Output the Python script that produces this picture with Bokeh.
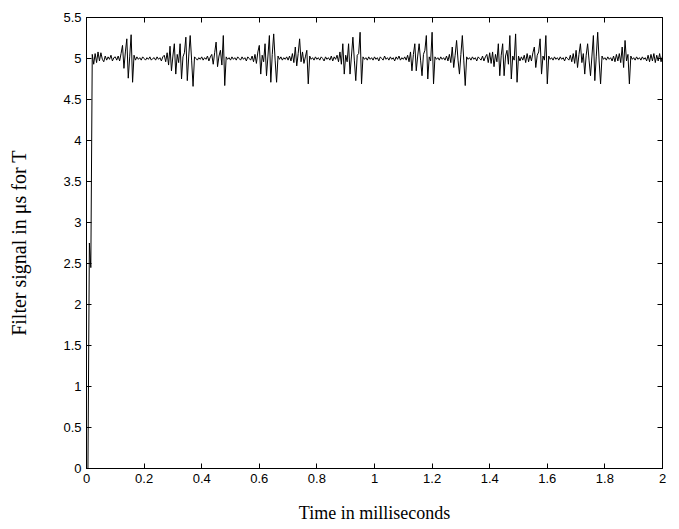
from bokeh.plotting import figure
from bokeh.models import Range1d, LinearAxis, FixedTicker, ColumnDataSource
from bokeh.embed import file_html
from bokeh.resources import INLINE

# ---- data ----
TIME_STEP_MS = 0.005  # sampling interval of the signal, milliseconds

signal = [
    # 0.00 - 0.095
    0.00, 0.00, 2.75, 2.45, 5.05, 4.93, 5.06, 4.95, 5.08, 4.97, 5.07, 4.99, 4.96, 5.03, 4.98, 5.02, 4.99, 5.04, 4.97, 5.01,
    # 0.10 - 0.195
    5.02, 4.98, 5.03, 4.97, 5.06, 5.16, 4.88, 5.08, 5.24, 4.76, 5.02, 5.29, 4.71, 5.04, 4.98, 5.02, 4.99, 5.01, 4.98, 5.02,
    # 0.20 - 0.295
    5.00, 4.98, 5.01, 4.99, 5.02, 4.98, 5.00, 5.01, 4.98, 5.02, 4.99, 5.01, 4.97, 5.02, 5.04, 4.96, 5.07, 4.92, 5.15, 4.85,
    # 0.30 - 0.395
    5.03, 5.18, 4.81, 5.05, 4.95, 5.18, 4.75, 5.02, 5.07, 5.26, 4.73, 5.03, 5.28, 4.98, 4.66, 5.02, 5.00, 4.98, 5.01, 4.99,
    # 0.40 - 0.495
    5.02, 4.98, 5.01, 4.99, 5.03, 4.97, 5.02, 5.05, 4.93, 5.07, 5.20, 4.90, 5.03, 5.10, 4.92, 5.28, 4.67, 5.02, 4.99, 5.01,
    # 0.50 - 0.595
    4.98, 5.02, 4.99, 5.01, 4.98, 5.02, 5.00, 4.98, 5.02, 4.99, 5.01, 4.97, 5.02, 5.00, 4.98, 5.03, 4.96, 5.05, 4.94, 5.08,
    # 0.60 - 0.695
    5.16, 4.81, 5.04, 4.96, 5.18, 4.79, 5.03, 5.28, 4.71, 5.05, 5.30, 4.98, 4.71, 5.03, 4.99, 5.02, 4.98, 5.01, 4.99, 5.02,
    # 0.70 - 0.795
    4.98, 5.03, 4.97, 5.06, 4.95, 5.14, 4.91, 5.06, 5.24, 4.96, 5.08, 4.94, 5.02, 5.10, 4.69, 5.03, 4.99, 5.01, 4.98, 5.02,
    # 0.80 - 0.895
    4.99, 5.01, 4.98, 5.02, 5.00, 4.97, 5.02, 4.99, 5.01, 4.98, 5.03, 4.97, 5.02, 4.99, 5.04, 4.96, 5.08, 4.93, 5.18, 4.81,
    # 0.90 - 0.995
    5.04, 4.96, 5.18, 4.81, 5.03, 5.26, 4.98, 4.73, 5.04, 5.06, 5.32, 4.69, 5.02, 4.99, 5.01, 4.98, 5.02, 4.99, 5.01, 4.98,
    # 1.00 - 1.095
    5.02, 4.99, 5.01, 4.97, 5.02, 5.00, 4.98, 5.03, 4.99, 5.01, 4.98, 5.02, 4.99, 5.01, 4.97, 5.02, 4.99, 5.03, 4.98, 5.01,
    # 1.10 - 1.195
    4.99, 5.02, 4.98, 5.04, 4.96, 5.08, 4.85, 5.05, 5.18, 4.85, 5.03, 5.18, 4.98, 4.79, 5.05, 5.10, 5.28, 4.75, 5.02, 4.97,
    # 1.20 - 1.295
    5.32, 4.69, 5.02, 4.99, 5.01, 4.98, 5.02, 4.99, 5.01, 4.98, 5.03, 4.97, 5.05, 4.95, 5.14, 4.89, 5.04, 5.22, 4.98, 4.81,
    # 1.30 - 1.395
    5.05, 5.28, 4.98, 4.67, 5.02, 4.99, 5.01, 4.98, 5.02, 4.99, 5.01, 4.97, 5.02, 5.00, 4.98, 5.03, 4.97, 5.02, 5.05, 4.95,
    # 1.40 - 1.495
    5.07, 4.94, 5.08, 4.90, 5.05, 4.96, 5.18, 4.79, 5.04, 5.18, 4.79, 5.03, 5.10, 4.93, 5.28, 4.75, 5.03, 4.98, 5.30, 4.71,
    # 1.50 - 1.595
    5.03, 4.97, 5.02, 4.98, 5.04, 4.95, 5.06, 4.96, 5.04, 4.97, 5.07, 5.14, 4.89, 5.04, 5.08, 5.24, 4.81, 5.03, 4.98, 5.28,
    # 1.60 - 1.695
    4.69, 5.03, 4.99, 5.01, 4.98, 5.02, 4.99, 5.01, 4.98, 5.02, 4.99, 5.01, 4.97, 5.02, 5.00, 4.98, 5.04, 4.96, 5.06, 4.94,
    # 1.70 - 1.795
    5.10, 4.89, 5.05, 5.18, 4.95, 5.06, 4.81, 5.04, 5.18, 4.98, 4.79, 5.03, 5.28, 4.73, 5.02, 5.32, 4.97, 4.69, 5.03, 4.99,
    # 1.80 - 1.895
    5.01, 4.98, 5.02, 4.99, 5.01, 4.97, 5.03, 4.96, 5.05, 4.97, 5.06, 4.95, 5.14, 4.89, 5.22, 4.97, 5.05, 4.69, 5.03, 4.99,
    # 1.90 - 1.995
    5.01, 4.98, 5.02, 4.99, 5.01, 4.98, 5.02, 4.99, 5.01, 4.97, 5.04, 4.96, 5.05, 4.97, 5.06, 4.95, 5.04, 4.97, 5.06, 4.96,
    # 2.00
    5.03,
]

x_ticks = [0, 0.2, 0.4, 0.6, 0.8, 1, 1.2, 1.4, 1.6, 1.8, 2]
x_tick_labels = ["0", "0.2", "0.4", "0.6", "0.8", "1", "1.2", "1.4", "1.6", "1.8", "2"]
y_ticks = [0, 0.5, 1, 1.5, 2, 2.5, 3, 3.5, 4, 4.5, 5, 5.5]
y_tick_labels = ["0", "0.5", "1", "1.5", "2", "2.5", "3", "3.5", "4", "4.5", "5", "5.5"]

x_label = "Time in milliseconds"
y_label = "Filter signal in \u03bcs for T"

time_ms = [i * TIME_STEP_MS for i in range(len(signal))]
source = ColumnDataSource(data=dict(t=time_ms, v=signal))

# ---- figure ----
p = figure(
    width=679, height=529,
    x_range=Range1d(0, 2), y_range=Range1d(0, 5.5),
    output_backend="svg", toolbar_location=None,
    min_border_left=86, min_border_right=17,
    min_border_top=17, min_border_bottom=61,
    background_fill_color="white", border_fill_color="white",
)
p.xgrid.visible = False
p.ygrid.visible = False
p.outline_line_color = "black"
p.outline_line_width = 1

p.line("t", "v", source=source, line_color="black", line_width=1)

TICK_FONT = "Liberation Sans"
LABEL_FONT = "Liberation Serif"

def style_axis(ax, ticks, labels, show_labels=True):
    ax.ticker = FixedTicker(ticks=ticks)
    ax.major_tick_in = 5
    ax.major_tick_out = 0
    ax.minor_tick_in = 0
    ax.minor_tick_out = 0
    ax.axis_line_color = "black"
    ax.major_tick_line_color = "black"
    if show_labels:
        ax.major_label_overrides = {t: l for t, l in zip(ticks, labels)}
        ax.major_label_text_font = TICK_FONT
        ax.major_label_text_font_size = "13px"
        ax.major_label_text_color = "black"
        ax.major_label_standoff = 5
    else:
        ax.major_label_text_color = None
        ax.major_label_standoff = 0

xa = p.xaxis[0]
style_axis(xa, x_ticks, x_tick_labels)
xa.axis_label = x_label
xa.axis_label_text_font = LABEL_FONT
xa.axis_label_text_font_size = "18px"
xa.axis_label_text_font_style = "normal"
xa.axis_label_text_color = "black"
xa.axis_label_standoff = 17

ya = p.yaxis[0]
style_axis(ya, y_ticks, y_tick_labels)
ya.axis_label = y_label
ya.axis_label_text_font = LABEL_FONT
ya.axis_label_text_font_size = "20px"
ya.axis_label_text_font_style = "normal"
ya.axis_label_text_color = "black"
ya.axis_label_standoff = 30

top_ax = LinearAxis()
style_axis(top_ax, x_ticks, x_tick_labels, show_labels=False)
p.add_layout(top_ax, "above")

right_ax = LinearAxis()
style_axis(right_ax, y_ticks, y_tick_labels, show_labels=False)
p.add_layout(right_ax, "right")

open("out.html", "w").write(file_html(p, INLINE))
